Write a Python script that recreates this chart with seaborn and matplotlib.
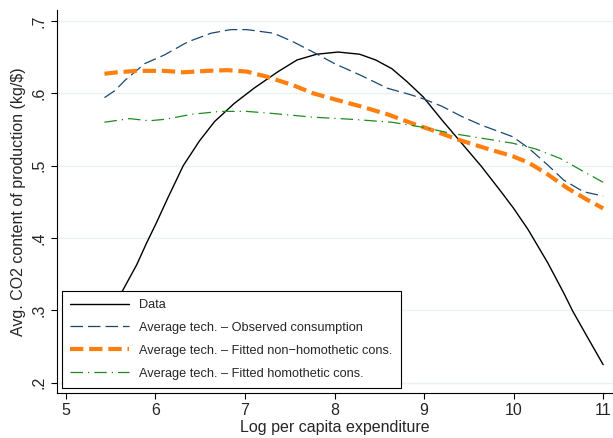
import numpy as np
import matplotlib
matplotlib.use("Agg")
import matplotlib.pyplot as plt
import seaborn as sns

# Data
data_x = [5.52, 5.64, 5.79, 5.90, 6.01, 6.14, 6.31, 6.49, 6.66, 6.88, 7.10, 7.37, 7.58, 7.80, 8.04,
          8.28, 8.46, 8.64, 8.81, 8.99, 9.20, 9.42, 9.64, 9.86, 10.0, 10.16, 10.38, 10.56,
          10.66, 10.82, 11.0]
data_y = [0.300, 0.329, 0.363, 0.393, 0.421, 0.456, 0.500, 0.534, 0.561, 0.586, 0.607, 0.630, 0.646,
          0.654, 0.657, 0.654, 0.646, 0.634, 0.616, 0.595, 0.563, 0.531, 0.499, 0.464, 0.441,
          0.412, 0.366, 0.324, 0.299, 0.264, 0.225]

obs_x = [5.43, 5.55, 5.66, 5.88, 6.10, 6.36, 6.62, 6.84, 7.02, 7.32, 7.54, 7.76, 8.00, 8.29,
         8.59, 8.85, 9.00, 9.20, 9.42, 9.64, 9.99, 10.17, 10.38, 10.56, 10.78, 11.0]
obs_y = [0.594, 0.604, 0.618, 0.641, 0.653, 0.671, 0.683, 0.688, 0.688, 0.683, 0.671, 0.657,
         0.641, 0.625, 0.607, 0.598, 0.592, 0.582, 0.568, 0.556, 0.540, 0.524, 0.501, 0.480,
         0.464, 0.458]

nonhom_x = [5.43, 5.57, 5.79, 6.10, 6.31, 6.58, 6.80, 7.02, 7.24, 7.54, 7.76, 8.02, 8.29, 8.59,
            8.90, 9.07, 9.38, 9.69, 9.99, 10.17, 10.38, 10.60, 10.82, 11.0]
nonhom_y = [0.627, 0.629, 0.631, 0.631, 0.629, 0.631, 0.632, 0.630, 0.623, 0.611, 0.600, 0.591,
            0.582, 0.571, 0.557, 0.550, 0.536, 0.524, 0.513, 0.504, 0.488, 0.469, 0.453, 0.441]

hom_x = [5.43, 5.71, 5.93, 6.10, 6.41, 6.72, 7.02, 7.32, 7.76, 8.20, 8.64, 8.99, 9.29, 9.64,
         9.99, 10.25, 10.52, 10.78, 11.0]
hom_y = [0.560, 0.565, 0.562, 0.564, 0.571, 0.575, 0.575, 0.572, 0.567, 0.564, 0.560, 0.553,
         0.545, 0.538, 0.531, 0.523, 0.510, 0.492, 0.477]

x_ticks = [5, 6, 7, 8, 9, 10, 11]
y_ticks = [0.2, 0.3, 0.4, 0.5, 0.6, 0.7]
y_tick_labels = [".2", ".3", ".4", ".5", ".6", ".7"]

sns.set_style("white")
plt.rcParams['font.family'] = ['Liberation Sans', 'DejaVu Sans']

fig = plt.figure(figsize=(6.13, 4.38), dpi=100)
ax = fig.add_axes([0.093, 0.103, 0.907, 0.874])

sns.lineplot(x=data_x, y=data_y, ax=ax, color='black', lw=1.0, label='Data')
sns.lineplot(x=obs_x, y=obs_y, ax=ax, color='#1a476f', lw=0.9,
             linestyle=(0, (10, 4)), label='Average tech. \u2013 Observed consumption')
sns.lineplot(x=nonhom_x, y=nonhom_y, ax=ax, color='#ff7f0e', lw=3.0,
             linestyle=(0, (3.2, 1.4)), label='Average tech. \u2013 Fitted non\u2212homothetic cons.')
sns.lineplot(x=hom_x, y=hom_y, ax=ax, color='#1e8c1e', lw=0.9,
             linestyle=(0, (10, 4, 1, 4)), label='Average tech. \u2013 Fitted homothetic cons.')

ax.set_xlim(4.9, 11.11)
ax.set_ylim(0.186, 0.715)
ax.set_xticks(x_ticks)
ax.set_yticks(y_ticks)
ax.set_yticklabels(y_tick_labels, rotation=90, va='center')
ax.tick_params(axis='both', labelsize=11.5, length=4, width=0.8, direction='out',
               left=True, bottom=True, color='black')
ax.yaxis.grid(True, color='#eaf2f3', lw=1.0)
ax.set_axisbelow(True)
for s in ['top', 'right']:
    ax.spines[s].set_visible(False)
for s in ['left', 'bottom']:
    ax.spines[s].set_color('black')
    ax.spines[s].set_linewidth(0.8)

ax.set_xlabel('Log per capita expenditure', fontsize=11.5, labelpad=1)
ax.set_ylabel('Avg. CO2 content of production (kg/$)', fontsize=11.5, labelpad=4)

leg = ax.legend(loc='lower left', bbox_to_anchor=(0.009, 0.013), borderaxespad=0,
                fontsize=9.2, handlelength=4.6, frameon=True, fancybox=False,
                edgecolor='black', framealpha=1, labelspacing=0.85, borderpad=0.65,
                handletextpad=0.8)
leg.get_frame().set_linewidth(0.8)

fig.savefig('out.png', dpi=100)
